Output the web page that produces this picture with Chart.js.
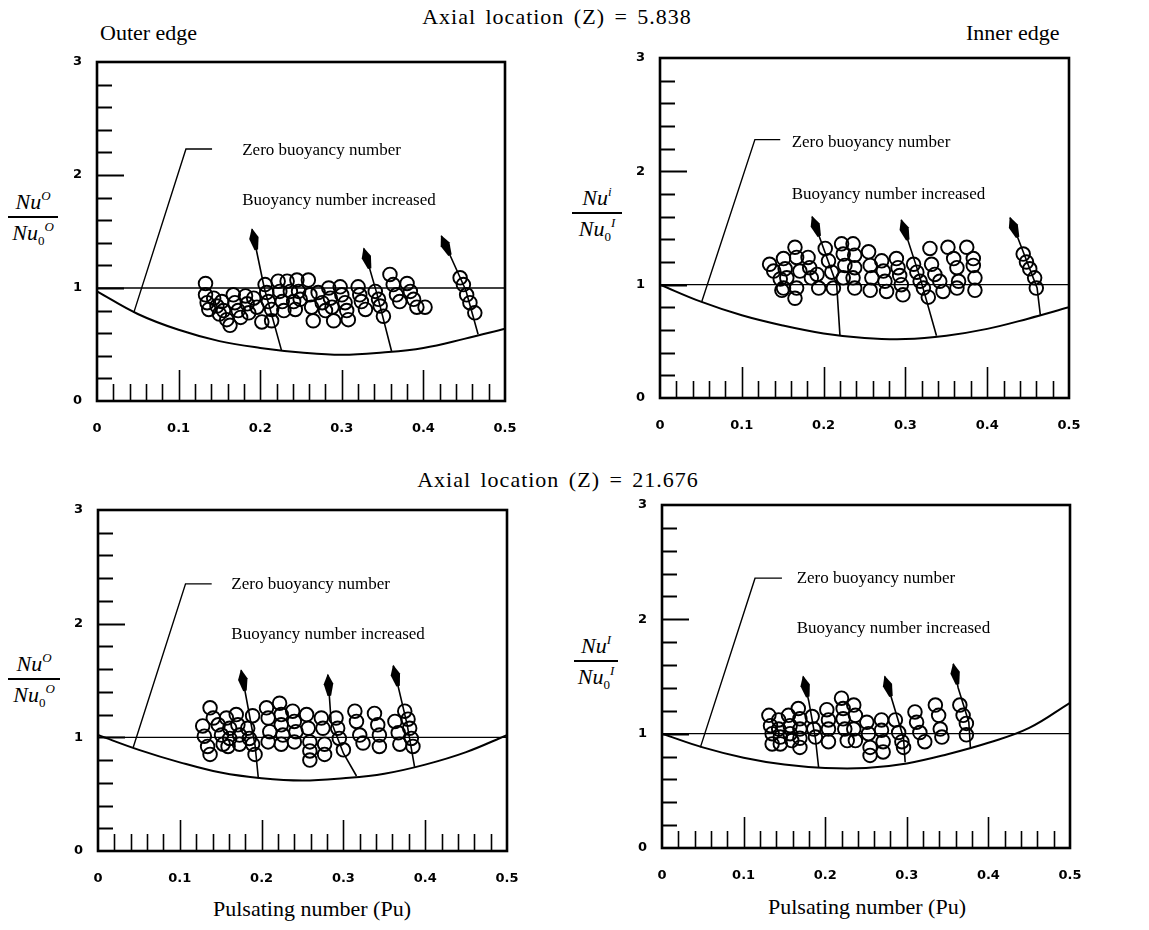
<!DOCTYPE html>
<html><head><meta charset="utf-8">
<script src="https://cdn.jsdelivr.net/npm/chart.js@4.4.1/dist/chart.umd.min.js"></script>
<style>
html,body{margin:0;padding:0;background:#fff;}
body{width:1149px;height:930px;position:relative;overflow:hidden;font-family:"Liberation Serif","Times New Roman",serif;color:#000;}
canvas{position:absolute;}
.t{position:absolute;white-space:nowrap;font-size:17px;line-height:18px;}
.big{position:absolute;white-space:nowrap;font-size:22px;line-height:24px;}
.title{letter-spacing:1px;word-spacing:3px;}
.frac{position:absolute;text-align:center;font-size:22px;line-height:24px;}
.frac .bar{height:2px;background:#000;margin:2px 0 3px 0;}
.frac sup{font-size:13px;font-style:italic;vertical-align:9px;line-height:0;}
.frac sub{font-size:13px;font-style:normal;vertical-align:-5px;line-height:0;}
</style></head>
<body>
<div class="big title" style="left:0;width:1114px;text-align:center;top:5px;">Axial location (Z) = 5.838</div>
<div class="big title" style="left:0;width:1116px;text-align:center;top:468px;">Axial location (Z) = 21.676</div>
<div class="big" style="left:100px;top:21px;">Outer edge</div>
<div class="big" style="left:966px;top:21px;">Inner edge</div>
<div class="big" style="left:160px;width:304px;text-align:center;top:897px;">Pulsating number (Pu)</div>
<div class="big" style="left:715px;width:304px;text-align:center;top:895px;">Pulsating number (Pu)</div>

<div class="frac" style="left:8px;top:190px;width:50px;"><div><i>Nu</i><sup>O</sup></div><div class="bar"></div><div><i>Nu</i><sub>0</sub><sup>O</sup></div></div>
<div class="frac" style="left:572px;top:186px;width:50px;"><div><i>Nu</i><sup>i</sup></div><div class="bar"></div><div><i>Nu</i><sub>0</sub><sup>I</sup></div></div>
<div class="frac" style="left:8px;top:652px;width:52px;"><div><i>Nu</i><sup>O</sup></div><div class="bar"></div><div><i>Nu</i><sub>0</sub><sup>O</sup></div></div>
<div class="frac" style="left:574px;top:634px;width:44px;"><div><i>Nu</i><sup>I</sup></div><div class="bar"></div><div><i>Nu</i><sub>0</sub><sup>I</sup></div></div>

<canvas id="cTL"></canvas>
<canvas id="cTR"></canvas>
<canvas id="cBL"></canvas>
<canvas id="cBR"></canvas>

<script>
// ---------------- DATA ----------------
const xTickValues = [0, 0.1, 0.2, 0.3, 0.4, 0.5];
const yTickValues = [0, 1, 2, 3];
const curvePu = [0, 0.05, 0.1, 0.15, 0.2, 0.25, 0.3, 0.35, 0.4, 0.45, 0.5];

// Zero buoyancy number curves (Nu/Nu0 vs Pu)
const tlCurve = [0.97, 0.77, 0.63, 0.53, 0.47, 0.43, 0.41, 0.43, 0.47, 0.55, 0.64];
const trCurve = [1.00, 0.85, 0.73, 0.64, 0.57, 0.53, 0.52, 0.55, 0.61, 0.70, 0.80];
const blCurve = [1.02, 0.89, 0.78, 0.69, 0.64, 0.62, 0.64, 0.68, 0.76, 0.87, 1.02];
const brCurve = [1.00, 0.88, 0.79, 0.73, 0.70, 0.70, 0.74, 0.82, 0.92, 1.05, 1.27];

// Measured points [Pu, Nu/Nu0]
const tlPoints = [
 [0.133,1.04],[0.133,0.94],[0.135,0.87],[0.137,0.81],
 [0.143,0.91],[0.147,0.84],[0.150,0.77],
 [0.153,0.88],[0.155,0.80],[0.159,0.72],[0.163,0.67],
 [0.167,0.94],[0.169,0.87],[0.173,0.80],[0.176,0.74],
 [0.182,0.93],[0.184,0.86],[0.186,0.78],
 [0.192,0.91],[0.196,0.83],[0.202,0.70],
 [0.206,1.03],[0.208,0.96],[0.210,0.88],[0.214,0.81],[0.214,0.71],
 [0.222,1.06],[0.224,0.97],[0.227,0.88],[0.229,0.80],
 [0.233,1.06],[0.237,0.97],[0.241,0.88],[0.243,0.81],
 [0.245,1.07],[0.247,0.97],[0.249,0.90],
 [0.259,1.07],[0.261,0.94],[0.263,0.83],[0.265,0.71],
 [0.271,0.96],[0.276,0.87],[0.280,0.80],
 [0.284,1.00],[0.286,0.91],[0.288,0.83],[0.290,0.71],
 [0.298,1.01],[0.300,0.94],[0.304,0.87],[0.306,0.80],[0.308,0.72],
 [0.320,1.01],[0.322,0.94],[0.324,0.88],[0.329,0.81],
 [0.341,0.97],[0.345,0.90],[0.347,0.84],[0.351,0.75],
 [0.359,1.12],[0.363,1.03],[0.367,0.94],[0.371,0.88],
 [0.380,1.04],[0.384,0.97],[0.388,0.90],[0.392,0.83],
 [0.402,0.83],
 [0.445,1.09],[0.449,1.03],[0.453,0.94],[0.457,0.87],[0.463,0.78]
];
const trPoints = [
 [0.134,1.18],[0.139,1.12],[0.147,1.05],[0.151,0.97],
 [0.151,1.23],[0.153,1.14],[0.155,1.06],[0.149,0.95],
 [0.165,1.33],[0.167,1.24],[0.171,1.12],[0.167,0.97],[0.165,0.88],
 [0.181,1.24],[0.183,1.15],[0.185,1.06],
 [0.194,0.97],[0.192,1.09],
 [0.202,1.32],[0.206,1.21],[0.210,1.11],[0.212,0.97],
 [0.222,1.36],[0.224,1.27],[0.226,1.17],[0.224,1.06],
 [0.236,1.36],[0.238,1.26],[0.238,1.15],[0.236,1.06],[0.238,0.97],
 [0.255,1.29],[0.257,1.17],[0.259,1.06],[0.257,0.95],
 [0.271,1.21],[0.273,1.12],[0.275,1.03],[0.277,0.94],
 [0.289,1.23],[0.291,1.15],[0.293,1.08],[0.295,1.00],[0.297,0.91],
 [0.310,1.18],[0.314,1.11],[0.318,1.03],[0.322,0.97],[0.328,0.89],
 [0.330,1.32],[0.332,1.18],[0.336,1.09],[0.342,1.03],[0.346,0.94],
 [0.352,1.33],[0.359,1.23],[0.363,1.15],[0.365,1.03],[0.363,0.97],
 [0.375,1.33],[0.383,1.23],[0.383,1.17],[0.385,1.06],[0.385,0.95],
 [0.444,1.27],[0.448,1.20],[0.452,1.14],[0.458,1.06],[0.460,0.97]
];
const blPoints = [
 [0.128,1.10],[0.130,1.01],[0.134,0.92],[0.137,0.85],
 [0.137,1.26],[0.141,1.17],
 [0.147,1.11],[0.151,1.02],[0.153,0.94],
 [0.157,1.17],[0.161,1.08],[0.161,0.99],[0.159,0.92],
 [0.169,1.20],[0.171,1.11],[0.173,1.02],[0.173,0.94],
 [0.183,1.08],[0.185,0.99],[0.189,0.94],
 [0.189,1.19],[0.192,0.85],
 [0.206,1.26],[0.208,1.17],[0.210,1.05],[0.208,0.96],
 [0.222,1.30],[0.224,1.20],[0.224,1.11],[0.226,1.02],[0.224,0.94],
 [0.238,1.23],[0.240,1.14],[0.242,1.05],[0.240,0.96],
 [0.255,1.20],[0.257,1.08],[0.259,0.96],[0.259,0.88],[0.259,0.80],
 [0.273,1.17],[0.275,1.08],[0.277,0.94],[0.277,0.85],
 [0.291,1.17],[0.293,1.08],[0.295,0.99],[0.300,0.89],
 [0.314,1.23],[0.316,1.14],[0.320,1.02],[0.324,0.95],
 [0.338,1.21],[0.342,1.11],[0.344,1.02],[0.344,0.92],
 [0.363,1.14],[0.367,1.04],[0.369,0.94],
 [0.375,1.23],[0.379,1.16],[0.381,1.08],[0.383,0.99],[0.385,0.92]
];
const brPoints = [
 [0.131,1.16],[0.133,1.07],[0.135,1.00],[0.135,0.91],
 [0.143,1.12],[0.143,1.04],[0.145,0.97],[0.145,0.91],
 [0.155,1.16],[0.157,1.07],[0.157,1.00],[0.159,0.94],
 [0.167,1.22],[0.169,1.13],[0.169,1.04],[0.169,0.96],[0.169,0.88],
 [0.184,1.15],[0.186,1.04],[0.188,0.97],
 [0.202,1.21],[0.204,1.12],[0.204,1.04],[0.204,0.93],
 [0.220,1.31],[0.222,1.22],[0.222,1.13],[0.224,1.04],[0.227,0.94],
 [0.235,1.25],[0.237,1.16],[0.235,1.04],[0.237,0.94],
 [0.251,1.10],[0.253,1.00],[0.255,0.88],[0.255,0.81],
 [0.269,1.12],[0.269,1.03],[0.271,0.93],[0.271,0.84],
 [0.286,1.12],[0.290,1.01],[0.294,0.93],[0.296,0.88],
 [0.310,1.19],[0.312,1.10],[0.316,1.01],[0.322,0.93],
 [0.335,1.25],[0.339,1.16],[0.341,1.04],[0.343,0.97],
 [0.365,1.25],[0.369,1.16],[0.373,1.09],[0.373,0.99]
];

// "Buoyancy number increased" arrows, from curve up to the tip
const tlArrows = [
 [[0.226,0.45],[0.205,1.00],[0.190,1.52]],
 [[0.361,0.44],[0.343,0.95],[0.327,1.35]],
 [[0.467,0.59],[0.452,0.98],[0.422,1.46]]
];
const trArrows = [
 [[0.220,0.55],[0.216,1.00],[0.186,1.60]],
 [[0.338,0.55],[0.318,1.06],[0.295,1.57]],
 [[0.465,0.73],[0.461,0.97],[0.428,1.59]]
];
const blArrows = [
 [[0.196,0.64],[0.192,0.93],[0.175,1.59]],
 [[0.316,0.66],[0.300,0.86],[0.285,1.14],[0.281,1.55]],
 [[0.387,0.74],[0.378,1.11],[0.361,1.63]]
];
const brArrows = [
 [[0.192,0.70],[0.188,0.96],[0.180,1.28],[0.173,1.50]],
 [[0.298,0.75],[0.296,0.96],[0.280,1.34],[0.273,1.50]],
 [[0.378,0.87],[0.376,1.10],[0.363,1.40],[0.357,1.61]]
];

// Leader line from the "Zero buoyancy number" label to the curve
const tlLeader = [[0.141,2.23],[0.109,2.23],[0.045,0.78]];
const trLeader = [[0.147,2.28],[0.116,2.28],[0.051,0.85]];
const blLeader = [[0.139,2.35],[0.107,2.35],[0.043,0.91]];
const brLeader = [[0.147,2.36],[0.114,2.36],[0.047,0.88]];

const labelZero = "Zero buoyancy number";
const labelInc = "Buoyancy number increased";

// ---------------- LAYOUT ----------------
const panels = [
 {id:'cTL', frame:{l:97,r:505,t:62,b:401},  pts:tlPoints, curve:tlCurve, arrows:tlArrows, leader:tlLeader, lab:[[0.178,2.22],[0.178,1.78]]},
 {id:'cTR', frame:{l:660,r:1069,t:58,b:398}, pts:trPoints, curve:trCurve, arrows:trArrows, leader:trLeader, lab:[[0.161,2.26],[0.161,1.80]]},
 {id:'cBL', frame:{l:98,r:507,t:510,b:851},  pts:blPoints, curve:blCurve, arrows:blArrows, leader:blLeader, lab:[[0.163,2.35],[0.163,1.91]]},
 {id:'cBR', frame:{l:662,r:1070,t:505,b:848}, pts:brPoints, curve:brCurve, arrows:brArrows, leader:brLeader, lab:[[0.165,2.36],[0.165,1.92]]}
];
const Y_W = 57, PAD_T = 22, PAD_R = 15, X_H = 60;

const decor = {
 id:'decor',
 afterDatasetsDraw(chart){
  const ctx = chart.ctx, xs = chart.scales.x, ys = chart.scales.y, a = chart.chartArea;
  ctx.save();
  ctx.strokeStyle = '#000'; ctx.fillStyle = '#000';
  ctx.lineWidth = 2;
  for (let i = 1; i < 15; i++) {
    const v = i * 0.2, major = (i % 5 === 0);
    const py = Math.round(ys.getPixelForValue(v)) + 0.5;
    ctx.beginPath(); ctx.moveTo(a.left, py); ctx.lineTo(a.left + (major ? 27 : 15), py); ctx.stroke();
  }
  ctx.lineWidth = 1.6;
  for (let i = 1; i < 25; i++) {
    const v = i * 0.02, major = (i % 5 === 0);
    const px = Math.round(xs.getPixelForValue(v)) + 0.5;
    ctx.beginPath(); ctx.moveTo(px, a.bottom); ctx.lineTo(px, a.bottom - (major ? 31 : 17)); ctx.stroke();
  }
  chart.data.datasets.forEach(ds => {
    if (!ds.arrowHead) return;
    const n = ds.data.length;
    const p0 = ds.data[n-2], p1 = ds.data[n-1];
    const x0 = xs.getPixelForValue(p0.x), y0 = ys.getPixelForValue(p0.y);
    const x1 = xs.getPixelForValue(p1.x), y1 = ys.getPixelForValue(p1.y);
    const ang = Math.atan2(y1 - y0, x1 - x0);
    ctx.save(); ctx.translate(x1, y1); ctx.rotate(ang);
    ctx.beginPath();
    ctx.moveTo(1, 0); ctx.lineTo(-9, 4.8); ctx.lineTo(-21, 1.8); ctx.lineTo(-21, -1.8); ctx.lineTo(-9, -4.8);
    ctx.closePath(); ctx.fill();
    ctx.restore();
  });
  ctx.lineWidth = 2.6;
  ctx.strokeRect(a.left, a.top, a.right - a.left, a.bottom - a.top);
  ctx.restore();
 }
};

const toXY = arr => arr.map(p => ({x:p[0], y:p[1]}));

panels.forEach(p => {
  const cv = document.getElementById(p.id);
  const W = p.frame.r - p.frame.l + Y_W + PAD_R;
  const H = p.frame.b - p.frame.t + PAD_T + X_H;
  const left = p.frame.l - Y_W, top = p.frame.t - PAD_T;
  cv.width = W; cv.height = H;
  cv.style.left = left + 'px'; cv.style.top = top + 'px';
  cv.style.width = W + 'px'; cv.style.height = H + 'px';

  const lineDs = (data, w, extra) => Object.assign({type:'scatter', data, showLine:true, borderColor:'#000', borderWidth:w, pointRadius:0, fill:false, tension:0}, extra || {});
  const datasets = [
    lineDs([{x:0,y:1},{x:0.5,y:1}], 1.4),
    lineDs(curvePu.map((x,i) => ({x, y:p.curve[i]})), 2, {tension:0.4}),
    lineDs(toXY(p.leader), 1.4),
  ];
  p.arrows.forEach(ar => datasets.push(lineDs(toXY(ar), 1.6, {arrowHead:true})));
  datasets.push({type:'scatter', data:toXY(p.pts), pointRadius:6.8, pointBorderWidth:1.9, pointBorderColor:'#000', pointBackgroundColor:'rgba(255,255,255,0)', showLine:false});

  const tickFont = {family:'"DejaVu Sans", sans-serif', size:13, weight:'bold'};
  const chart = new Chart(cv, {
    type:'scatter',
    data:{datasets},
    options:{
      responsive:false, animation:false, events:[],
      layout:{padding:{top:PAD_T, right:PAD_R, left:0, bottom:0}},
      plugins:{legend:{display:false}, tooltip:{enabled:false}},
      scales:{
        x:{type:'linear', min:0, max:0.5, grid:{display:false, drawTicks:false}, border:{display:false},
           afterBuildTicks: s => { s.ticks = xTickValues.map(v => ({value:v})); },
           afterFit: s => { s.height = X_H; s.paddingLeft = 0; s.paddingRight = 0; },
           ticks:{color:'#000', font:tickFont, padding:20, maxRotation:0, autoSkip:false,
                  callback: v => v === 0 ? '0' : v.toFixed(1)}},
        y:{type:'linear', min:0, max:3, grid:{display:false, drawTicks:false}, border:{display:false},
           afterBuildTicks: s => { s.ticks = yTickValues.map(v => ({value:v})); },
           afterFit: s => { s.width = Y_W; s.paddingTop = 0; s.paddingBottom = 0; },
           ticks:{color:'#000', font:tickFont, padding:15, callback: v => String(v)}}
      }
    },
    plugins:[decor]
  });

  [labelZero, labelInc].forEach((txt, i) => {
    const d = document.createElement('div');
    d.className = 't'; d.textContent = txt;
    d.style.left = (left + chart.scales.x.getPixelForValue(p.lab[i][0])) + 'px';
    d.style.top = (top + chart.scales.y.getPixelForValue(p.lab[i][1]) - 9) + 'px';
    document.body.appendChild(d);
  });
});
</script>
</body></html>
